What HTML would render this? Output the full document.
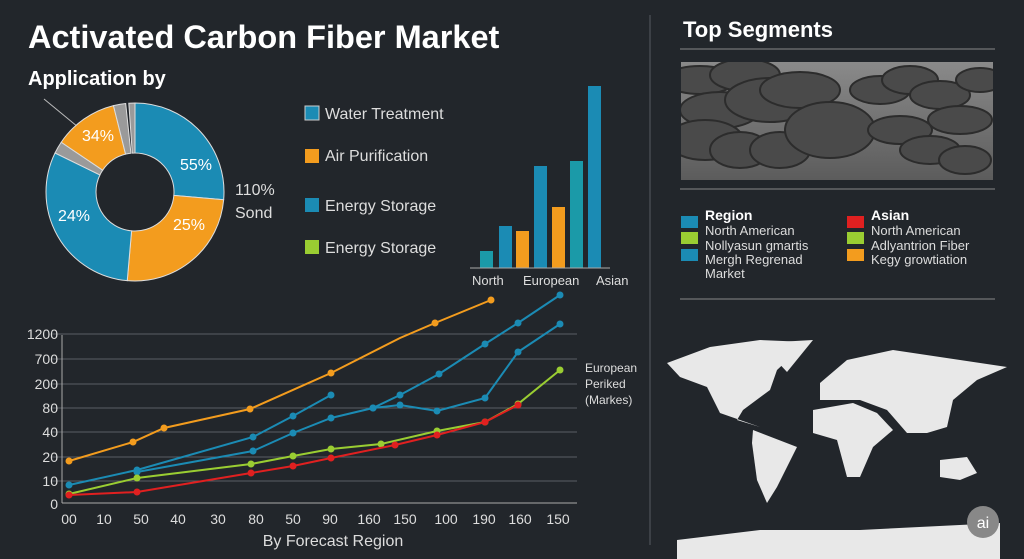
<!DOCTYPE html>
<html><head><meta charset="utf-8"><style>
body{margin:0;background:#22262b;width:1024px;height:559px;overflow:hidden;font-family:"Liberation Sans",sans-serif}
svg{display:block}
</style></head><body>
<svg id="s" width="1024" height="559" viewBox="0 0 1024 559" font-family="Liberation Sans, sans-serif">
<rect width="1024" height="559" fill="#22262b"/>
<text x="28" y="48" fill="#fff" font-size="32.5" font-weight="bold">Activated Carbon Fiber Market</text>
<text x="28" y="85" fill="#fff" font-size="20" font-weight="bold">Application by</text>
<line x1="44" y1="99" x2="78" y2="127" stroke="#bbb" stroke-width="1"/>
<g id="pie"></g>
<g fill="#fff" font-size="16">
<text x="180" y="170">55%</text><text x="173" y="230">25%</text><text x="58" y="221">24%</text><text x="82" y="141">34%</text>
<text x="235" y="195" fill="#ddd">110%</text><text x="235" y="218" fill="#ddd">Sond</text>
</g>
<g font-size="16" fill="#ddd">
<rect x="305" y="106" width="14" height="14" fill="#1b8bb4" stroke="#ccc" stroke-width="1"/><text x="325" y="119">Water Treatment</text>
<rect x="305" y="149" width="14" height="14" fill="#f39c1e"/><text x="325" y="161">Air Purification</text>
<rect x="305" y="198" width="14" height="14" fill="#1b8bb4"/><text x="325" y="211">Energy Storage</text>
<rect x="305" y="240" width="14" height="14" fill="#9acd32"/><text x="325" y="253">Energy Storage</text>
</g>
<g>
<rect x="480" y="251" width="13" height="17" fill="#1b9aa8"/>
<rect x="499" y="226" width="13" height="42" fill="#1b8bb4"/>
<rect x="516" y="231" width="13" height="37" fill="#f39c1e"/>
<rect x="534" y="166" width="13" height="102" fill="#1b8bb4"/>
<rect x="552" y="207" width="13" height="61" fill="#f39c1e"/>
<rect x="570" y="161" width="13" height="107" fill="#1b9aa8"/>
<rect x="588" y="86" width="13" height="182" fill="#1b8bb4"/>
<line x1="470" y1="268" x2="610" y2="268" stroke="#aaa"/>
<g fill="#ddd" font-size="13"><text x="472" y="285">North</text><text x="523" y="285">European</text><text x="596" y="285">Asian</text></g>
</g>
<g stroke="#5a5f66" stroke-width="1">
<line x1="51" y1="334" x2="577" y2="334"/><line x1="51" y1="359" x2="577" y2="359"/><line x1="51" y1="384" x2="577" y2="384"/><line x1="51" y1="408" x2="577" y2="408"/><line x1="51" y1="432" x2="577" y2="432"/><line x1="51" y1="457" x2="577" y2="457"/><line x1="51" y1="481" x2="577" y2="481"/>
</g>
<line x1="62" y1="335" x2="62" y2="503" stroke="#aaa"/>
<line x1="62" y1="503" x2="577" y2="503" stroke="#aaa"/>
<g fill="#ddd" font-size="14" text-anchor="end">
<text x="58" y="339">1200</text><text x="58" y="364">700</text><text x="58" y="389">200</text><text x="58" y="413">80</text><text x="58" y="437">40</text><text x="58" y="462">20</text><text x="58" y="486">10</text><text x="58" y="509">0</text>
</g>
<g id="xl" fill="#ddd" font-size="14" text-anchor="middle"></g>
<text x="333" y="546" fill="#ddd" font-size="16" text-anchor="middle">By Forecast Region</text>
<g fill="#ddd" font-size="12"><text x="585" y="372">European</text><text x="585" y="388">Periked</text><text x="585" y="404">(Markes)</text></g>
<g id="lines"></g>
<line x1="650" y1="15" x2="650" y2="545" stroke="#555b62"/>
<text x="683" y="37" fill="#fff" font-size="22" font-weight="bold">Top Segments</text>
<line x1="680" y1="49" x2="995" y2="49" stroke="#888"/>
<defs><linearGradient id="ph" x1="0" y1="0" x2="0" y2="1"><stop offset="0" stop-color="#8a8a8a"/><stop offset="1" stop-color="#5c5c5c"/></linearGradient>
<clipPath id="cp"><rect x="681" y="62" width="312" height="118"/></clipPath></defs>
<rect x="681" y="62" width="312" height="118" fill="url(#ph)"/>
<g id="cyl" clip-path="url(#cp)"></g>
<line x1="680" y1="189" x2="995" y2="189" stroke="#888"/>
<g font-size="13" fill="#ddd">
<rect x="681" y="216" width="17" height="12" fill="#1b8bb4"/><rect x="681" y="232" width="17" height="12" fill="#9acd32"/><rect x="681" y="249" width="17" height="12" fill="#1b8bb4"/>
<text x="705" y="220" font-weight="bold" fill="#fff" font-size="14">Region</text>
<text x="705" y="235">North American</text><text x="705" y="250">Nollyasun gmartis</text><text x="705" y="264">Mergh Regrenad</text><text x="705" y="278">Market</text>
<rect x="847" y="216" width="17" height="12" fill="#e02020"/><rect x="847" y="232" width="17" height="12" fill="#9acd32"/><rect x="847" y="249" width="17" height="12" fill="#f39c1e"/>
<text x="871" y="220" font-weight="bold" fill="#fff" font-size="14">Asian</text>
<text x="871" y="235">North American</text><text x="871" y="250">Adlyantrion Fiber</text><text x="871" y="264">Kegy growtiation</text>
</g>
<line x1="680" y1="299" x2="995" y2="299" stroke="#888"/>
<g fill="#e8e8e8">
<polygon points="667,363 710,347 760,340 807,342 777,370 770,390 743,410 737,420 760,427 720,413 707,387 680,377"/>
<polygon points="760,343 813,340 787,372"/>
<polygon points="753,430 797,447 777,487 767,503 757,480 752,443"/>
<polygon points="820,383 847,360 893,350 1007,367 977,380 953,400 947,427 927,433 907,433 887,410 860,400 820,400"/>
<polygon points="813,410 853,403 877,413 893,430 873,447 860,477 847,477 837,440 813,433"/>
<polygon points="940,460 967,457 977,473 960,480 940,477"/>
<polygon points="677,540 760,530 860,530 1000,523 1000,559 677,559"/>
</g>
<circle cx="983" cy="522" r="16" fill="#888"/>
<text x="983" y="528" fill="#fff" font-size="16" text-anchor="middle">ai</text>
</svg>
<script>
var NS="http://www.w3.org/2000/svg";
function el(p,t,a){var e=document.createElementNS(NS,t);for(var k in a)e.setAttribute(k,a[k]);p.appendChild(e);return e;}
var cx=135,cy=192,R=89,r=39;
function pt(a,rad){a=(a-90)*Math.PI/180;return [cx+rad*Math.cos(a),cy+rad*Math.sin(a)];}
var segs=[[0,95,"#1b8bb4"],[95,185,"#f39c1e"],[185,296,"#1b8bb4"],[296,304,"#9a9a9a"],[304,346,"#f39c1e"],[346,354,"#9a9a9a"],[356,360,"#9a9a9a"]];
var pie=document.getElementById("pie");
segs.forEach(function(s){var a=pt(s[0],R),b=pt(s[1],R),c=pt(s[1],r),d=pt(s[0],r);var L=(s[1]-s[0])>180?1:0;
el(pie,"path",{d:"M"+a+" A"+R+","+R+" 0 "+L+" 1 "+b+" L"+c+" A"+r+","+r+" 0 "+L+" 0 "+d+"Z",fill:s[2],stroke:"#ddd","stroke-width":1});});
var xs=[69,104,141,178,218,256,293,330,369,405,446,484,520,558],lab=["00","10","50","40","30","80","50","90","160","150","100","190","160","150"];
var xl=document.getElementById("xl");
xs.forEach(function(x,i){var t=el(xl,"text",{x:x,y:524});t.textContent=lab[i];});
var series=[
["#f39c1e",[[69,461],[133,442],[164,428],[250,409],[331,373],[400,338,0],[435,323],[491,300]]],
["#1b8bb4",[[69,485],[137,470],[253,437],[293,416],[331,395]]],
["#1b8bb4",[[137,472],[253,451],[293,433],[331,418],[373,408],[400,395],[439,374],[485,344],[518,323],[560,295]]],
["#1b8bb4",[[373,408],[400,405],[437,411],[485,398],[518,352],[560,324]]],
["#9acd32",[[69,494],[137,478],[251,464],[293,456],[331,449],[381,444],[437,431],[485,422],[518,404],[560,370]]],
["#e02020",[[69,495],[137,492],[251,473],[293,466],[331,458],[395,445],[437,435],[485,422],[518,405]]]];
var g=document.getElementById("lines");
series.forEach(function(s){el(g,"polyline",{points:s[1].map(function(p){return p[0]+","+p[1]}).join(" "),fill:"none",stroke:s[0],"stroke-width":2});
s[1].forEach(function(p){if(p[2]!==0)el(g,"circle",{cx:p[0],cy:p[1],r:3.5,fill:s[0]});});});
var cy2=document.getElementById("cyl");
[[700,80,14,36],[720,110,18,40],[745,75,16,35],[770,100,22,45],[800,90,18,40],[705,140,20,38],[740,150,18,30],[780,150,18,30],[830,130,28,45],[880,90,14,30],[910,80,14,28],[940,95,14,30],[960,120,14,32],[900,130,14,32],[930,150,14,30],[965,160,14,26],[980,80,12,24]].forEach(function(c){
el(cy2,"ellipse",{cx:c[0],cy:c[1],rx:c[3],ry:c[2],fill:"#4a4a4a",stroke:"#2c2c2c","stroke-width":2});});
</script>
</body></html>
